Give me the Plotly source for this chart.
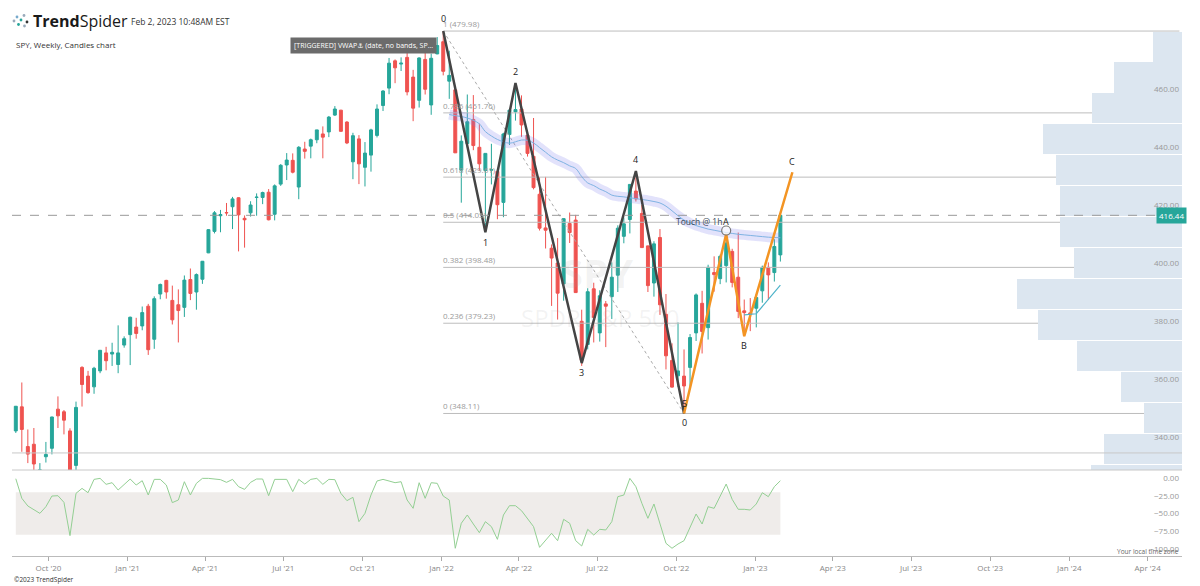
import pandas as pd
import plotly.graph_objects as go

# ---------------- DATA ----------------
weeks = pd.date_range('2020-08-24', periods=128, freq='W-MON')

opens = [342.1, 350.4, 336.7, 337.5, 325.7, 333.2, 336.1, 349.6, 348.7, 342.1, 330.2, 364.0, 361.0, 357.3, 362.8, 369.0, 368.6, 365.0, 371.7,
         375.3, 377.9, 378.3, 385.1, 373.7, 389.3, 394.0, 387.1, 385.6, 384.7, 394.3, 390.0, 394.4, 403.5, 410.9, 416.3, 417.4, 419.4, 422.5, 415.4,
         417.3, 422.6, 422.6, 424.4, 416.8, 427.2, 433.8, 435.4, 426.2, 439.3, 440.3, 442.5, 444.5, 445.2, 451.0, 452.7, 448.6, 434.9, 442.8, 433.0,
         437.2, 444.0, 454.3, 460.3, 469.7, 468.6, 470.9, 464.1, 456.1, 470.2, 454.5, 472.1,
         476.3, 462.7, 459.7, 432.0, 441.2, 449.5, 439.9, 431.9, 432.0, 431.6, 420.9, 444.3, 452.1, 453.1, 444.1, 436.8, 423.7, 412.1, 405.1, 400.0,
         392.8, 413.6, 414.8, 379.9, 371.9, 391.1, 375.9, 385.9, 388.4, 395.8, 409.2, 415.0, 424.8, 417.1, 405.9, 393.1, 408.8, 382.3, 366.4, 361.1,
         361.0, 364.0, 375.9, 386.1, 377.7, 396.7, 394.6, 399.1, 404.0, 395.1, 383.5, 382.8,
         384.4, 390.4, 398.5, 396.7, 402.8]
highs = [350.7, 358.8, 342.6, 343.1, 331.0, 338.3, 347.0, 354.0, 349.3, 343.0, 352.2, 364.4, 362.8, 364.2, 370.0, 371.1, 372.5, 378.5, 374.7,
         381.5, 381.1, 385.0, 385.9, 388.5, 392.9, 394.2, 392.2, 390.9, 395.7, 398.1, 396.4, 400.7, 411.7, 417.9, 418.3, 420.7, 422.8, 422.7, 416.4,
         421.3, 424.0, 424.6, 425.5, 427.1, 434.1, 437.9, 437.8, 440.3, 441.8, 442.9, 445.9, 447.1, 450.7, 454.1, 452.8, 448.9, 444.9, 444.1, 441.7,
         446.3, 454.7, 459.6, 470.7, 470.2, 470.9, 473.5, 466.6, 470.9, 472.9, 472.2, 477.9,
         479.98, 473.2, 460.0, 444.0, 458.1, 457.9, 448.1, 437.8, 441.1, 432.3, 444.9, 453.0, 462.07, 457.8, 445.8, 450.0, 429.6, 429.7, 406.4, 408.6,
         415.4, 417.4, 416.6, 383.9, 391.3, 393.2, 390.6, 386.9, 400.2, 413.0, 415.7, 427.2, 431.73, 420.0, 406.0, 407.5, 411.7, 389.3, 372.3, 379.5,
         370.2, 375.5, 389.5, 390.4, 399.4, 402.3, 402.9, 410.0, 404.9, 410.5, 387.4, 387.9,
         389.3, 399.1, 400.2, 408.2, 416.49]
lows = [341.4, 334.9, 331.0, 328.0, 319.8, 331.2, 334.0, 343.1, 340.9, 322.6, 327.2, 350.5, 354.9, 354.9, 362.0, 363.0, 364.5, 362.0, 370.8,
        364.8, 373.9, 376.8, 368.3, 370.4, 387.5, 387.7, 378.8, 372.6, 381.4, 387.2, 383.9, 392.8, 403.4, 410.2, 410.6, 416.3, 411.7, 404.0, 405.3,
        416.0, 416.3, 420.3, 414.7, 414.7, 426.6, 428.6, 430.9, 422.0, 436.0, 436.1, 441.3, 436.1, 443.4, 450.7, 445.3, 441.0, 428.9, 427.2, 426.4,
        431.5, 443.3, 452.4, 458.2, 462.0, 466.2, 457.8, 448.9, 453.6, 458.1, 451.1, 472.0,
        464.7, 456.6, 437.95, 420.8, 439.8, 438.9, 431.8, 410.64, 427.1, 415.1, 415.8, 440.7, 449.1, 443.5, 436.7, 425.4, 411.2, 405.0, 385.2, 380.5,
        387.0, 406.9, 389.75, 364.5, 370.2, 372.6, 372.9, 371.0, 380.7, 390.0, 406.8, 410.2, 421.2, 405.25, 390.0, 388.4, 382.1, 363.3, 357.0, 357.2,
        348.11, 357.3, 373.1, 368.8, 373.6, 390.1, 392.7, 393.3, 391.6, 381.0, 374.77, 376.5,
        377.8, 386.3, 387.3, 393.6, 400.5]
closes = [350.6, 342.6, 334.1, 330.7, 328.7, 334.0, 346.9, 347.3, 345.8, 326.5, 350.2, 358.1, 355.3, 363.7, 369.9, 366.3, 369.2, 369.0, 373.9,
          381.3, 375.7, 382.9, 370.1, 387.7, 392.6, 390.0, 380.4, 383.6, 394.1, 389.5, 396.0, 400.6, 411.5, 417.3, 416.7, 417.3, 422.1, 416.6, 414.9,
          420.0, 422.7, 424.3, 414.9, 426.6, 433.7, 435.5, 431.3, 439.9, 438.5, 442.5, 445.9, 443.4, 450.3, 453.1, 445.4, 441.4, 443.9, 434.2, 437.9,
          445.9, 453.1, 459.3, 468.9, 467.3, 468.9, 459.0, 453.4, 470.7, 459.9, 470.6, 475.0,
          466.1, 464.7, 437.98, 442.0, 448.7, 440.5, 434.2, 437.8, 432.2, 420.1, 444.5, 452.7, 452.9, 447.6, 437.8, 426.0, 412.0, 411.3, 401.7, 389.6,
          415.3, 410.5, 389.8, 366.5, 390.1, 381.2, 388.7, 385.1, 395.1, 412.0, 413.5, 427.1, 422.1, 405.31, 392.2, 406.6, 385.6, 368.0, 357.2, 362.8,
          357.6, 374.3, 389.0, 376.4, 398.5, 396.0, 402.3, 406.9, 393.3, 383.3, 382.9, 382.4,
          388.1, 398.5, 395.9, 405.7, 416.44]

williams_r = [-1, -28.6, -39.4, -44.1, -49.8, -40.4, -25.4, -24.9, -34.3, -81.2, -21.6, -14.6, -20.7, -1.9, -0.5, -8.9, -6.6, -16.9, -8.5,
              -1.4, -9.9, -3.8, -23.9, -1.9, -1.9, -9.9, -34.7, -31, -5.2, -23.9, -7.5, -0.5, -0.5, -1.4, -2.3, -6.1, -1.9, -12.2, -16,
              -6.1, -1.4, -1.4, -24.9, -1.9, -1.9, -1.9, -19.2, -1.9, -8.5, -1.9, -0.5, -8.9, -1.9, -2.3, -21.6, -31.9, -27.2, -61.5, -49.8,
              -23.9, -4.2, -1.9, -4.2, -6.6, -5.2, -31, -42.7, -6.6, -28.6, -6.6, -7.5,
              -25.4, -31, -99, -63.8, -52.1, -64.8, -77, -61.5, -68.5, -86.4, -52.1, -39, -39, -46, -56.8, -68.5, -97.7, -88.3, -77.9, -88.3,
              -58.2, -63.8, -88.3, -95.8, -72.3, -80.3, -72.3, -73.2, -61.5, -26.3, -24, -0.5, -12.2, -35.7, -56.8, -36.6, -63.8, -92, -99, -93,
              -88.3, -68.5, -50.7, -64.8, -40.4, -42.7, -25.4, -8.5, -30.1, -44.1, -44.1, -45.1,
              -36.6, -20.7, -26.3, -12.2, -3.8]

vwap = [451.2, 450.8, 450.5, 450.0, 449.2, 448.0, 445.3, 443.8, 442.6, 441.8, 441.3, 441.8, 442.4, 442.3, 441.4, 439.8, 438.2, 436.6,
        435.5, 434.6, 433.5, 432.6, 429.8, 427.6, 426.7, 425.5, 424.6, 423.4, 423.0, 422.8, 422.5, 422.2, 421.9, 421.6, 421.2, 420.7,
        419.6, 418.0, 416.3, 414.8, 413.8, 412.9, 412.3, 411.7, 411.3, 410.9, 410.5, 410.2, 409.9, 409.7, 409.5, 409.3, 409.1, 408.9,
        408.8, 408.7]
vwap_weeks = weeks[72:]

# volume profile, top bin to bottom bin (relative volume)
profile_volume = [29, 68, 90, 139, 126, 122, 122, 108, 165, 144, 105, 61, 38, 78, 91]

wave_labels = ['0', '1', '2', '3', '4', '5']
wave_dates = ['2022-01-03', '2022-02-21', '2022-03-28', '2022-06-13', '2022-08-15', '2022-10-10']
wave_prices = [479.98, 410.64, 462.07, 365.5, 431.73, 348.11]
wave_shift = [13, -10, 11, -9, 11, 10]

abc_labels = ['0', 'A', 'B', 'C']
abc_dates = ['2022-10-10', '2022-11-28', '2022-12-19', '2023-02-13']
abc_prices = [348.11, 410.0, 374.77, 431.3]
abc_shift = [-9, 13, -9, 11]

sub_dates = ['2022-12-19', '2023-01-02', '2023-01-30']
sub_prices = [382.1, 382.5, 392.4]

touch_date = '2022-11-28'
touch_price = 411.2

fib_high = 479.98
fib_low = 348.11
fib_ratios = [0, 0.236, 0.382, 0.5, 0.618, 0.786, 1]
fib_start = '2022-01-03'
fib_end = '2024-05-08'

last_price = 416.44
support_level = 334.5

quarter_ticks = pd.date_range('2020-10-01', '2024-04-01', freq='QS')
quarter_text = [d.strftime("%b '%y") for d in quarter_ticks]

# ---------------- STYLE / LAYOUT HELPERS ----------------
W, H = 1200, 586
ML, MR, MT, MB = 12, 18, 14, 30
PW, PH = W - ML - MR, H - MT - MB
def px(x): return (x - ML) / PW
def py(y): return (H - MB - y) / PH
split = py(470)

FONT = 'Open Sans'
GREEN = '#26a69a'
RED = '#ef5350'

fig = go.Figure()

# volume profile
lo, hi = min(lows), max(highs)
nb = len(profile_volume)
step = (hi - lo) / nb
centers = [hi - step * (i + 0.5) for i in range(nb)]
fig.add_trace(go.Bar(orientation='h', y=centers, x=profile_volume, width=step * 0.97,
                     xaxis='x3', yaxis='y', marker=dict(color='#dce6f0', line=dict(width=0)),
                     hoverinfo='skip'))

# fib lines
fib_levels = [fib_low + (fib_high - fib_low) * r for r in fib_ratios]
for r, lv in zip(fib_ratios, fib_levels):
    fig.add_trace(go.Scatter(x=[fib_start, fib_end], y=[lv, lv], mode='lines',
                             line=dict(color='#bdbdbd', width=1), hoverinfo='skip', xaxis='x', yaxis='y'))
    lab = ('%g (%.2f)' % (r, lv))
    fig.add_annotation(x=fib_start, y=lv, xref='x', yref='y', text=lab, showarrow=False,
                       xanchor='left', yanchor='bottom', yshift=0, xshift=-2,
                       font=dict(family=FONT, size=8, color='#9a9a9a'))

# diagonal dotted fib line
fig.add_trace(go.Scatter(x=[wave_dates[0], wave_dates[-1]], y=[fib_high, fib_low], mode='lines',
                         line=dict(color='#aaaaaa', width=1, dash='dot'), hoverinfo='skip'))

# VWAP band + line
fig.add_trace(go.Scatter(x=vwap_weeks, y=vwap, mode='lines',
                         line=dict(color='rgba(125,125,235,0.22)', width=10, shape='spline'), hoverinfo='skip'))
fig.add_trace(go.Scatter(x=vwap_weeks, y=vwap, mode='lines',
                         line=dict(color='#7fb3e3', width=1, shape='spline'), hoverinfo='skip'))

# candles
fig.add_trace(go.Candlestick(x=weeks, open=opens, high=highs, low=lows, close=closes,
                             increasing=dict(line=dict(color=GREEN, width=1), fillcolor=GREEN),
                             decreasing=dict(line=dict(color=RED, width=1), fillcolor=RED),
                             whiskerwidth=0, hoverinfo='skip', xaxis='x', yaxis='y'))

# Elliott wave
fig.add_trace(go.Scatter(x=wave_dates, y=wave_prices, mode='lines',
                         line=dict(color='#444444', width=2.5), hoverinfo='skip'))
fig.add_trace(go.Scatter(x=abc_dates, y=abc_prices, mode='lines',
                         line=dict(color='#f39423', width=2.5), hoverinfo='skip'))
fig.add_trace(go.Scatter(x=sub_dates, y=sub_prices, mode='lines',
                         line=dict(color='#4eb3c9', width=1.2), hoverinfo='skip'))
fig.add_trace(go.Scatter(x=[touch_date], y=[touch_price], mode='markers',
                         marker=dict(symbol='circle', size=9, color='rgba(255,255,255,0.7)',
                                     line=dict(color='#777777', width=1.2)), hoverinfo='skip'))

for lab, d, p, s in zip(wave_labels, wave_dates, wave_prices, wave_shift):
    fig.add_annotation(x=d, y=p, text=lab, showarrow=False, yshift=s,
                       font=dict(family=FONT, size=9, color='#222222'))
for lab, d, p, s in zip(abc_labels, abc_dates, abc_prices, abc_shift):
    fig.add_annotation(x=d, y=p, text=lab, showarrow=False, yshift=s,
                       font=dict(family=FONT, size=9, color='#222222'))
fig.add_annotation(x=abc_dates[1], y=abc_prices[1], text='Touch @ 1h', showarrow=False,
                   xanchor='right', xshift=-2, yshift=13,
                   font=dict(family=FONT, size=8.5, color='#3a4a5a'))

# Williams %R
fig.add_trace(go.Scatter(x=weeks, y=williams_r, mode='lines', xaxis='x2', yaxis='y2',
                         line=dict(color='#93cf93', width=1), hoverinfo='skip'))

shapes = []
# osc band
shapes.append(dict(type='rect', xref='x2', yref='y2', x0=weeks[0], x1=weeks[-1], y0=-80, y1=-20,
                   fillcolor='#efecea', line=dict(width=0), layer='below'))
# pane separator and support line
shapes.append(dict(type='line', xref='paper', yref='paper', x0=0, x1=1, y0=split, y1=split,
                   line=dict(color='#c8c8c8', width=1)))
shapes.append(dict(type='line', xref='paper', yref='y', x0=0, x1=1, y0=support_level, y1=support_level,
                   line=dict(color='#c8c8c8', width=1)))
# last price dashed
shapes.append(dict(type='line', xref='paper', yref='y', x0=0, x1=px(1155), y0=last_price, y1=last_price,
                   line=dict(color='#9a9a9a', width=1, dash='dash')))
# logo dots
dots = [(14, 21, '#9ab'), (17, 17, '#7ac'), (18.5, 24.5, '#26a69a'), (21, 20, '#26a69a'),
        (24, 15.5, '#9ab'), (24.5, 26, '#9ab'), (27, 22, '#333')]
for dx, dy, c in dots:
    r = 1.4
    shapes.append(dict(type='circle', xref='paper', yref='paper', x0=px(dx - r), x1=px(dx + r),
                       y0=py(dy + r), y1=py(dy - r), fillcolor=c, line=dict(width=0)))

ann = []
ann.append(dict(x=px(31), y=py(21), xref='paper', yref='paper', xanchor='left', yanchor='middle',
                text='<b>Trend</b>Spider', showarrow=False, font=dict(family=FONT, size=16, color='#1a1a1a')))
ann.append(dict(x=px(129), y=py(21), xref='paper', yref='paper', xanchor='left', yanchor='middle',
                text='Feb 2, 2023 10:48AM EST', showarrow=False, font=dict(family=FONT, size=8.5, color='#333333')))
ann.append(dict(x=px(14), y=py(44), xref='paper', yref='paper', xanchor='left', yanchor='middle',
                text='SPY, Weekly, Candles chart', showarrow=False, font=dict(family=FONT, size=8, color='#333333')))
ann.append(dict(x=px(290), y=py(46), xref='paper', yref='paper', xanchor='left', yanchor='middle',
                text='[TRIGGERED] VWAP<span style="font-family:DejaVu Sans">⚓</span> (date, no bands, SP...',
                showarrow=False, bgcolor='#6b6b6b',
                borderpad=3, font=dict(family=FONT, size=7, color='#ffffff')))
ann.append(dict(x=px(1156), y=last_price, xref='paper', yref='y', xanchor='left', yanchor='middle',
                text='416.44', showarrow=False, bgcolor=GREEN, borderpad=2,
                font=dict(family=FONT, size=8, color='#ffffff')))
ann.append(dict(x=px(597), y=py(272), xref='paper', yref='paper', text='<b>SPY</b>', showarrow=False,
                font=dict(family=FONT, size=40, color='rgba(160,160,160,0.13)')))
ann.append(dict(x=px(600), y=py(317), xref='paper', yref='paper', text='SPDR S&amp;P 500', showarrow=False,
                font=dict(family=FONT, size=24, color='rgba(160,160,160,0.13)')))
ann.append(dict(x=px(1181), y=py(551), xref='paper', yref='paper', xanchor='right', yanchor='middle',
                text='Your local time zone', showarrow=False, font=dict(family=FONT, size=6.5, color='#666666')))
ann.append(dict(x=px(12), y=py(579), xref='paper', yref='paper', xanchor='left', yanchor='middle',
                text='©2023 TrendSpider', showarrow=False, font=dict(family=FONT, size=6.5, color='#333333')))

xr = ['2020-08-19 14:00', '2024-05-11']
fig.update_layout(
    width=W, height=H, margin=dict(l=ML, r=MR, t=MT, b=MB),
    paper_bgcolor='white', plot_bgcolor='white', showlegend=False,
    font=dict(family=FONT, size=8, color='#8a8a8a'),
    hovermode=False, bargap=0,
    xaxis=dict(domain=[0, 1], anchor='y', range=xr, showticklabels=False, showgrid=False,
               zeroline=False, rangeslider=dict(visible=False), matches='x2'),
    yaxis=dict(domain=[split, 1], range=[328.62, 485.86], side='right', ticklabelposition='inside',
               tickvals=[340, 360, 380, 400, 420, 440, 460], tickformat='.2f', showgrid=False,
               zeroline=False, ticks='', tickfont=dict(family=FONT, size=8, color='#999999')),
    xaxis2=dict(domain=[0, 1], anchor='y2', range=xr, showgrid=False, zeroline=False,
                showline=True, linecolor='#bbbbbb', ticks='outside', ticklen=4, tickcolor='#aaaaaa',
                tickvals=quarter_ticks, ticktext=quarter_text,
                tickfont=dict(family=FONT, size=8, color='#888888')),
    yaxis2=dict(domain=[0, split], range=[-109.9, 11.3], side='right', ticklabelposition='inside',
                tickvals=[0, -25, -50, -75, -100], tickformat='.2f', showgrid=False, zeroline=False,
                ticks='', tickfont=dict(family=FONT, size=8, color='#999999')),
    xaxis3=dict(overlaying='x', anchor='y', range=[max(profile_volume) * PW / 165.0, 0],
                visible=False, showgrid=False, zeroline=False),
    shapes=shapes, annotations=list(fig.layout.annotations) + ann,
)

fig.write_html('out.html')
